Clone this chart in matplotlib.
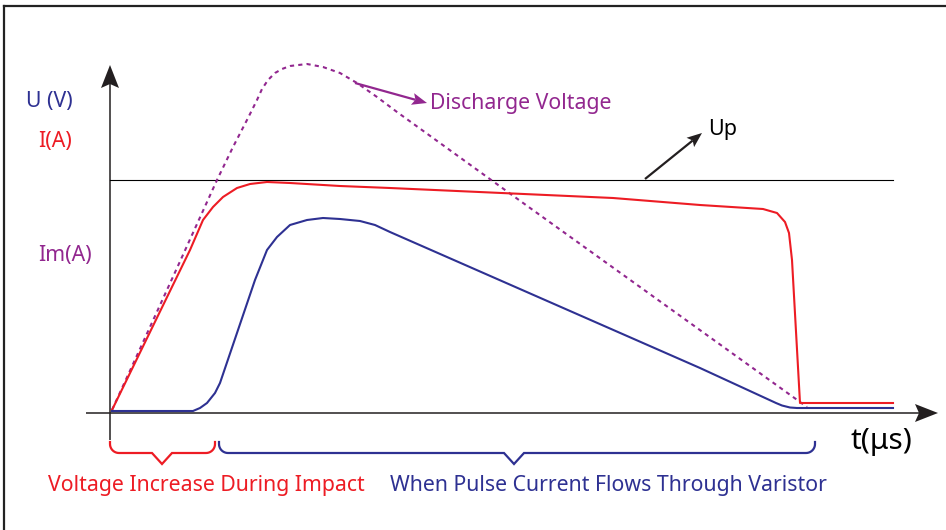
import numpy as np
import matplotlib
matplotlib.use("Agg")
import matplotlib.pyplot as plt
from matplotlib.patches import Polygon

plt.rcParams["font.family"] = ["Noto Sans", "DejaVu Sans"]

RED = "#ed1c24"
BLUE = "#2e3192"
PURPLE = "#92278f"

# curves (t across, value up, origin at the axis cross)
discharge_t = [1, 66, 106, 122, 137, 146, 151, 157, 164, 171, 179, 196, 212, 229, 246, 266, 286, 401, 696]
discharge_v = [3, 145, 233, 266, 295, 313, 324, 333, 340, 344, 347, 349, 346, 340, 330, 316, 301, 218, 6]

current_t = [1, 79, 92, 102, 112, 126, 139, 156, 179, 229, 279, 502, 589, 652, 666, 674, 678, 681, 689, 782]
current_v = [3, 163, 193, 206, 216, 225, 229, 231, 230, 227, 225, 215, 208, 204, 200, 191, 180, 153, 10, 10]

voltage_t = [1, 82, 89, 96, 104, 109, 144, 156, 166, 179, 196, 212, 229, 249, 264, 279, 589, 665, 671, 679, 686, 782]
voltage_v = [2, 2, 5, 10, 20, 30, 133, 163, 176, 188, 193, 195, 194, 192, 188, 181, 45, 10, 7.5, 5.5, 5, 5]

up_level = 233
up_end = 782

# phases under the time axis: (start, end, tip, label, colour)
phases = [
    (-1, 104, 51, "Voltage Increase During Impact", RED),
    (108, 704, 403, "When Pulse Current Flows Through Varistor", BLUE),
]
phase_label_x = [-63, 279]

axis_labels = [("U (V)", BLUE, -85, 311), ("I(A)", RED, -73, 271), ("Im(A)", PURPLE, -73, 158)]


def stealth(ax, tip, start, length, half_w, notch, color):
    tip = np.array(tip, float)
    d = tip - np.array(start, float)
    d /= np.hypot(*d)
    p = np.array([-d[1], d[0]])
    pts = [tip, tip - length * d + half_w * p, tip - (length - notch) * d, tip - length * d - half_w * p]
    ax.add_patch(Polygon(pts, closed=True, color=color, lw=0, zorder=5))


def arrow(ax, start, tip, color, lw, length, half_w, notch):
    tip = np.array(tip, float)
    start = np.array(start, float)
    d = (tip - start) / np.hypot(*(tip - start))
    end = tip - (length - notch) * d
    ax.plot([start[0], end[0]], [start[1], end[1]], color=color, lw=lw, solid_capstyle="butt")
    stealth(ax, tip, start, length, half_w, notch, color)


def bracket(ax, t0, t1, tip, color, top=-29, bar=-40, depth=11, r=9, notch=10):
    a = np.linspace(0, np.pi / 2, 12)
    left = np.c_[t0 + r - r * np.cos(a), bar + r - r * np.sin(a)]
    right = np.c_[t1 - r + r * np.sin(a), bar + r - r * np.cos(a)]
    pts = np.vstack([[t0, top], left, [tip - notch, bar], [tip, bar - depth], [tip + notch, bar], right, [t1, top]])
    ax.plot(pts[:, 0], pts[:, 1], color=color, lw=1.6, solid_joinstyle="miter")


fig = plt.figure(figsize=(9.46, 5.30), dpi=100)
ax = fig.add_axes([0, 0, 1, 1])
ax.set_xlim(-111, 835)
ax.set_ylim(-117, 413)
ax.axis("off")

# frame (top and left only)
fig.add_artist(plt.Line2D([4 / 946, 1], [1 - 6 / 530] * 2, color="#222222", lw=1.6))
fig.add_artist(plt.Line2D([4 / 946] * 2, [0, 1 - 6 / 530], color="#222222", lw=1.6))

# axes with arrow heads
arrow(ax, (-25, 0), (827, 0), "#231f20", 1.1, 23, 9, 4)
arrow(ax, (-1, -27), (-1, 348), "#231f20", 1.1, 23, 9, 4)

ax.plot([-1, up_end], [up_level, up_level], color="black", lw=0.8)

ax.plot(discharge_t, discharge_v, color=PURPLE, lw=1.5, ls=(0, (2, 2)))
ax.plot(current_t, current_v, color=RED, lw=1.5)
ax.plot(voltage_t, voltage_v, color=BLUE, lw=1.5)

arrow(ax, (244, 330), (316, 310), PURPLE, 1.6, 15, 6, 3)
arrow(ax, (534, 234), (591, 280), "#231f20", 1.6, 15, 6, 3)

ax.text(319, 309, "Discharge Voltage", color=PURPLE, fontsize=15.3, ha="left", va="center")
ax.text(597, 283, "Up", color="black", fontsize=15.5, ha="left", va="center")
ax.text(739, -28, "t(μs)", color="black", fontsize=21.5, ha="left", va="center")

for label, col, x, y in axis_labels:
    ax.text(x, y, label, color=col, fontsize=15.3, ha="left", va="center")

for (t0, t1, tip, label, col), lx in zip(phases, phase_label_x):
    bracket(ax, t0, t1, tip, col)
    ax.text(lx, -72, label, color=col, fontsize=15.3, ha="left", va="center")

fig.savefig("out.png", dpi=100)
